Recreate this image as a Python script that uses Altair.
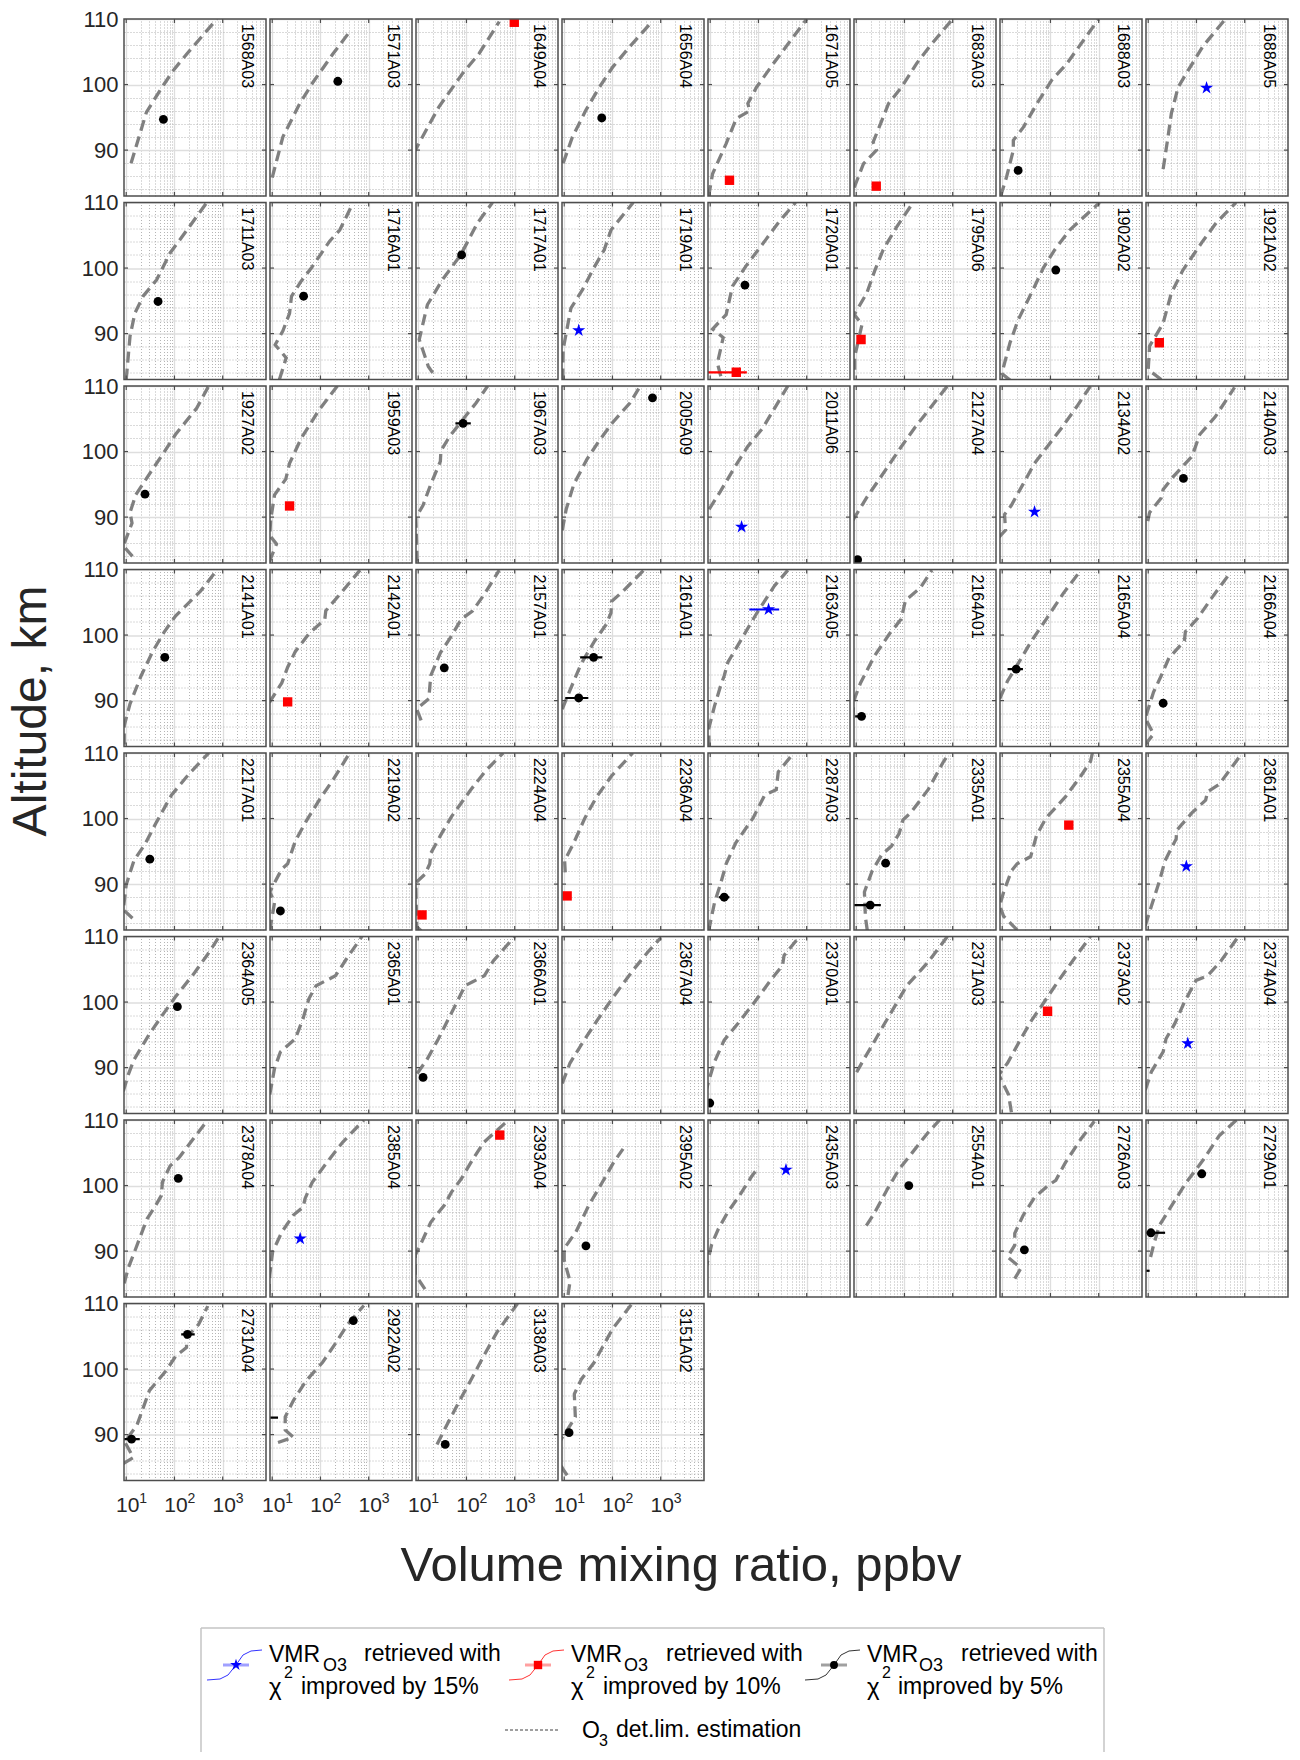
import altair as alt
import pandas as pd

FONT = "Liberation Sans"
TXT = "#262626"

ROWS = [
    ["1568A03", "1571A03", "1649A04", "1656A04", "1671A05", "1683A03", "1688A03", "1688A05"],
    ["1711A03", "1716A01", "1717A01", "1719A01", "1720A01", "1795A06", "1902A02", "1921A02"],
    ["1927A02", "1959A03", "1967A03", "2005A09", "2011A06", "2127A04", "2134A02", "2140A03"],
    ["2141A01", "2142A01", "2157A01", "2161A01", "2163A05", "2164A01", "2165A04", "2166A04"],
    ["2217A01", "2219A02", "2224A04", "2236A04", "2287A03", "2335A01", "2355A04", "2361A01"],
    ["2364A05", "2365A01", "2366A01", "2367A04", "2370A01", "2371A03", "2373A02", "2374A04"],
    ["2378A04", "2385A04", "2393A04", "2395A02", "2435A03", "2554A01", "2726A03", "2729A01"],
    ["2731A04", "2922A02", "3138A03", "3151A02"],
]

# detection-limit profiles: altitude (km) and VMR (ppbv)
DL_ALT = {
    "1568A03": [88.0, 95.8, 99.9, 102.2, 104.7, 110.0],
    "1571A03": [85.8, 92.0, 97.1, 100.4, 104.7, 108.1],
    "1649A04": [89.5, 91.5, 96.6, 101.7, 104.7, 109.6],
    "1656A04": [88.0, 92.0, 96.1, 99.6, 102.7, 105.8, 109.6],
    "1671A05": [83.0, 86.4, 91.0, 94.8, 96.0, 97.1, 99.6, 103.2, 110.0],
    "1683A03": [84.3, 87.9, 90.0, 91.2, 94.5, 97.1, 99.6, 103.2, 105.8, 110.0],
    "1688A03": [83.0, 85.9, 90.0, 91.5, 93.5, 97.1, 100.7, 103.2, 110.0],
    "1688A05": [87.1, 92.0, 95.6, 99.6, 101.7, 105.8, 110.0],
    "1711A03": [83.0, 89.6, 93.1, 95.7, 98.2, 102.3, 105.8, 110.0],
    "1716A01": [83.0, 86.3, 88.3, 90.4, 93.1, 95.7, 98.0, 100.0, 104.1, 105.8, 109.4, 110.0],
    "1717A01": [84.0, 85.0, 87.6, 89.1, 94.4, 98.2, 102.0, 106.9, 110.0],
    "1719A01": [83.0, 87.6, 93.9, 96.7, 99.7, 102.8, 105.8, 110.0],
    "1720A01": [83.5, 85.5, 89.4, 90.7, 92.9, 97.2, 100.3, 104.3, 107.1, 110.0],
    "1795A06": [84.5, 86.5, 91.4, 92.9, 96.2, 99.7, 102.8, 106.3, 110.0],
    "1902A02": [82.9, 83.9, 88.6, 92.1, 96.7, 100.0, 102.8, 105.8, 110.0],
    "1921A02": [83.0, 84.5, 88.1, 91.6, 96.2, 99.7, 104.1, 106.9, 110.0],
    "1927A02": [84.0, 85.6, 89.1, 90.7, 93.4, 96.9, 100.4, 102.6, 106.6, 110.0],
    "1959A03": [83.2, 85.9, 87.2, 89.6, 93.4, 95.8, 98.2, 102.0, 106.1, 106.9, 110.0],
    "1967A03": [83.2, 85.8, 89.9, 91.8, 95.0, 98.5, 100.1, 102.3, 105.3, 107.4, 110.0],
    "2005A09": [88.0, 91.2, 95.0, 98.8, 101.5, 104.4, 107.4, 109.6],
    "2011A06": [91.2, 93.9, 97.4, 100.7, 103.6, 110.0],
    "2127A04": [89.5, 92.9, 97.2, 100.7, 103.6, 110.0],
    "2134A02": [86.9, 88.0, 90.4, 91.8, 95.0, 98.2, 100.9, 103.6, 106.9, 110.0],
    "2140A03": [89.4, 90.7, 92.9, 94.2, 96.1, 99.3, 102.6, 105.3, 109.8],
    "2141A01": [83.3, 86.2, 89.5, 93.8, 97.5, 100.5, 102.9, 106.7, 110.0],
    "2142A01": [89.7, 92.7, 95.1, 97.5, 100.2, 102.4, 103.7, 106.1, 109.9],
    "2157A01": [87.0, 88.7, 90.3, 93.8, 97.3, 99.4, 102.4, 103.7, 106.1, 109.9],
    "2161A01": [88.7, 91.6, 95.6, 99.1, 101.6, 103.4, 105.1, 106.7, 109.9],
    "2163A05": [83.0, 85.7, 89.2, 92.1, 93.8, 95.9, 99.4, 103.4, 107.5, 109.9],
    "2164A01": [87.3, 90.0, 92.7, 96.7, 100.2, 102.4, 105.3, 107.2, 109.9],
    "2165A04": [90.3, 93.0, 95.9, 98.9, 102.4, 106.4, 109.9],
    "2166A04": [83.3, 84.9, 87.3, 91.3, 93.8, 96.5, 99.1, 100.5, 102.6, 105.6, 109.6],
    "2217A01": [84.8, 86.1, 89.9, 93.6, 96.1, 99.5, 103.6, 106.8, 110.0],
    "2219A02": [82.9, 87.2, 88.8, 92.3, 93.1, 96.6, 99.8, 103.0, 106.0, 109.7],
    "2224A04": [82.9, 83.5, 90.2, 91.5, 93.1, 94.7, 97.4, 100.3, 104.4, 107.3, 110.0],
    "2236A04": [91.8, 93.6, 96.3, 100.1, 103.3, 106.5, 110.0],
    "2287A03": [82.9, 87.2, 89.9, 93.1, 96.3, 100.1, 103.6, 104.4, 107.1, 110.0],
    "2335A01": [82.9, 85.0, 88.8, 92.0, 94.5, 95.8, 97.7, 99.8, 100.9, 104.4, 108.7, 110.0],
    "2355A04": [83.0, 85.1, 86.7, 88.8, 92.0, 93.1, 94.2, 97.4, 100.1, 103.3, 106.5, 108.7, 110.0],
    "2361A01": [83.7, 86.7, 90.4, 93.6, 96.9, 98.2, 100.9, 102.8, 104.1, 105.2, 110.0],
    "2364A05": [86.4, 88.9, 91.2, 95.0, 98.0, 100.8, 104.5, 107.3, 110.0],
    "2365A01": [85.9, 89.9, 92.4, 94.4, 97.5, 100.5, 102.5, 104.0, 106.6, 110.0],
    "2366A01": [89.1, 91.2, 94.4, 97.2, 99.5, 102.5, 103.1, 104.0, 106.3, 110.0],
    "2367A04": [87.6, 90.7, 93.9, 97.5, 100.8, 104.8, 107.6, 109.8],
    "2370A01": [86.1, 88.9, 90.9, 94.2, 96.7, 99.7, 103.3, 105.6, 107.1, 110.0],
    "2371A03": [89.3, 90.9, 93.4, 96.5, 99.5, 102.5, 106.1, 110.0],
    "2373A02": [83.2, 85.9, 88.9, 90.7, 93.9, 97.0, 100.0, 103.5, 106.8, 110.0],
    "2374A04": [86.6, 89.4, 92.4, 94.4, 96.7, 100.0, 103.3, 104.0, 106.3, 110.0],
    "2378A04": [85.1, 87.4, 90.4, 94.9, 96.7, 98.5, 100.5, 103.0, 104.3, 107.8, 110.0],
    "2385A04": [83.3, 86.4, 89.9, 92.9, 95.5, 96.7, 98.0, 100.5, 103.3, 106.6, 110.0],
    "2393A04": [84.2, 86.4, 89.4, 91.2, 94.4, 97.0, 99.0, 101.0, 104.0, 106.6, 110.0],
    "2395A02": [83.3, 85.4, 88.6, 90.4, 92.9, 97.0, 100.5, 103.5, 105.6],
    "2435A03": [86.9, 91.0, 93.4, 96.0, 98.5, 101.3, 102.9],
    "2554A01": [93.9, 95.7, 99.5, 102.5, 105.1, 108.1, 110.0],
    "2726A03": [85.8, 87.4, 89.1, 90.9, 92.7, 95.4, 98.2, 100.0, 100.8, 103.5, 107.1, 109.8],
    "2729A01": [89.1, 90.9, 93.9, 97.7, 100.5, 104.0, 107.6, 110.0],
    "2731A04": [85.6, 86.5, 88.9, 91.4, 96.7, 99.7, 102.0, 103.3, 104.8, 106.8, 109.6],
    "2922A02": [88.8, 89.6, 90.7, 92.7, 95.2, 98.2, 101.0, 103.8, 106.8, 109.7],
    "3138A03": [88.5, 91.7, 95.2, 98.7, 102.3, 105.6, 110.0],
    "3151A02": [83.8, 84.8, 87.5, 91.7, 92.7, 96.2, 98.5, 101.0, 103.3, 106.1, 109.8],
}
DL_VMR = {
    "1568A03": [12.6, 26.3, 58.9, 95.5, 182, 759],
    "1571A03": [10.0, 16.6, 37.2, 70.8, 182, 407],
    "1649A04": [8.0, 11.2, 26.9, 83.2, 182, 479],
    "1656A04": [9.5, 14.8, 28.2, 53.7, 102, 229, 661],
    "1671A05": [9.3, 11.2, 21.4, 34.7, 66.1, 60.3, 91.2, 204, 1000],
    "1683A03": [9.1, 14.1, 26.3, 22.4, 33.9, 46.8, 87.1, 178, 331, 1000],
    "1688A03": [9.3, 12.3, 17.0, 17.0, 27.5, 52.5, 107, 219, 1000],
    "1688A05": [20.4, 25.7, 30.2, 41.7, 61.7, 135, 398],
    "1711A03": [10.0, 12.0, 15.1, 22.4, 42.7, 81.3, 182, 468],
    "1716A01": [14.1, 19.5, 11.5, 16.6, 22.9, 25.1, 39.8, 64.6, 155, 251, 437, 457],
    "1717A01": [20.0, 16.2, 12.3, 10.5, 15.5, 31.6, 75.9, 170, 347],
    "1719A01": [9.3, 9.5, 13.8, 24.0, 38.9, 67.6, 93.3, 269],
    "1720A01": [16.6, 14.1, 18.6, 11.2, 21.4, 28.8, 55.0, 141, 269, 589],
    "1795A06": [9.3, 9.3, 13.2, 9.1, 16.6, 24.5, 36.3, 69.2, 151],
    "1902A02": [14.5, 9.8, 14.5, 21.4, 43.7, 70.8, 123, 251, 1047],
    "1921A02": [18.6, 10.0, 10.7, 20.4, 30.2, 52.5, 135, 257, 661],
    "1927A02": [13.5, 8.7, 13.2, 12.0, 15.8, 32.4, 67.6, 105, 288, 513],
    "1959A03": [8.7, 12.3, 8.9, 9.3, 11.2, 19.1, 22.9, 39.8, 89.1, 107, 224],
    "1967A03": [9.5, 9.3, 8.9, 12.6, 18.2, 28.8, 29.5, 44.7, 93.3, 158, 275],
    "2005A09": [9.1, 11.0, 15.8, 29.5, 51.3, 100, 230, 350],
    "2011A06": [9.5, 16.2, 30.9, 58.9, 123, 407],
    "2127A04": [8.5, 16.2, 40.7, 85.1, 162, 776],
    "2134A02": [8.5, 11.7, 11.2, 15.5, 26.9, 46.8, 89.1, 170, 355, 676],
    "2140A03": [9.8, 10.7, 18.6, 20.4, 32.4, 81.3, 117, 245, 617],
    "2141A01": [9.1, 9.1, 12.0, 20.4, 35.5, 61.7, 105, 347, 776],
    "2142A01": [8.7, 15.8, 20.9, 30.2, 57.5, 123, 129, 245, 661],
    "2157A01": [11.5, 9.3, 16.6, 18.2, 28.8, 44.7, 77.6, 135, 229, 479],
    "2161A01": [9.1, 13.2, 22.4, 42.7, 74.1, 93.3, 95.5, 166, 447],
    "2163A05": [9.5, 9.3, 12.3, 16.2, 19.5, 23.4, 44.7, 93.3, 214, 407],
    "2164A01": [8.5, 8.9, 12.3, 23.4, 49.0, 85.1, 105, 214, 372],
    "2165A04": [8.9, 12.9, 22.4, 38.9, 81.3, 186, 427],
    "2166A04": [8.7, 12.9, 8.7, 12.9, 18.6, 26.9, 56.2, 58.9, 107, 204, 513],
    "2217A01": [13.5, 8.7, 10.0, 14.5, 24.5, 42.7, 87.1, 200, 513],
    "2219A02": [8.9, 11.2, 8.9, 15.8, 20.9, 30.2, 52.5, 97.7, 186, 380],
    "2224A04": [11.5, 9.3, 8.9, 13.8, 17.4, 18.2, 28.8, 49.0, 123, 251, 575],
    "2236A04": [10.5, 10.2, 15.8, 26.9, 46.8, 95.5, 263],
    "2287A03": [9.3, 12.3, 16.2, 21.4, 33.9, 77.6, 135, 234, 257, 537],
    "2335A01": [17.0, 15.5, 14.8, 21.4, 33.9, 53.7, 77.6, 93.3, 135, 309, 646, 851],
    "2355A04": [20.4, 10.7, 8.9, 10.7, 15.5, 20.4, 38.9, 51.3, 81.3, 204, 427, 676, 741],
    "2361A01": [8.7, 11.7, 17.0, 22.4, 38.0, 38.9, 81.3, 155, 170, 295, 891],
    "2364A05": [8.7, 11.0, 14.5, 29.5, 56.2, 105, 263, 490, 851],
    "2365A01": [8.9, 11.2, 14.8, 30.2, 43.7, 57.5, 81.3, 204, 347, 724],
    "2366A01": [9.5, 15.1, 26.3, 40.7, 58.9, 93.3, 135, 234, 363, 1000],
    "2367A04": [9.1, 13.2, 24.5, 51.3, 105, 263, 537, 1000],
    "2370A01": [7.9, 10.2, 12.3, 19.5, 37.2, 77.6, 178, 316, 339, 708],
    "2371A03": [10.2, 13.5, 21.4, 37.2, 64.6, 112, 309, 776],
    "2373A02": [15.5, 13.5, 8.5, 12.9, 22.4, 38.9, 74.1, 155, 324, 676],
    "2374A04": [8.7, 11.7, 20.4, 23.4, 35.5, 56.2, 97.7, 170, 324, 741],
    "2378A04": [9.1, 11.0, 15.8, 26.9, 38.9, 53.7, 56.2, 81.3, 126, 288, 490],
    "2385A04": [8.5, 8.9, 10.2, 15.8, 27.5, 43.7, 47.9, 67.6, 129, 288, 794],
    "2393A04": [13.8, 8.7, 8.7, 11.5, 18.2, 34.7, 49.0, 77.6, 135, 229, 741],
    "2395A02": [12.0, 13.2, 10.0, 10.0, 17.4, 32.4, 61.7, 105, 166],
    "2435A03": [7.9, 10.7, 14.8, 23.4, 40.7, 70.8, 102],
    "2554A01": [16.2, 23.4, 44.7, 77.6, 148, 309, 537],
    "2726A03": [18.2, 24.5, 12.9, 18.2, 18.2, 26.9, 46.8, 89.1, 129, 204, 427, 813],
    "2729A01": [11.2, 12.9, 17.0, 35.5, 61.7, 141, 295, 676],
    "2731A04": [8.7, 14.1, 9.3, 16.6, 30.2, 66.1, 107, 178, 178, 316, 490],
    "2922A02": [13.2, 27.5, 18.6, 18.6, 27.5, 50.1, 110, 200, 363, 794],
    "3138A03": [24.5, 40.7, 72.4, 132, 240, 427, 1148],
    "3151A02": [11.5, 9.3, 6.0, 14.1, 17.0, 16.2, 22.9, 41.7, 61.7, 100, 245],
}

# retrieved VMR points (k: 5 %, r: 10 %, b: 15 % chi^2 improvement)
PT_LABEL = ["1568A03", "1571A03", "1649A04", "1656A04", "1671A05", "1683A03", "1688A03", "1688A05",
            "1711A03", "1716A01", "1717A01", "1719A01", "1720A01", "1720A01", "1795A06", "1902A02", "1921A02",
            "1927A02", "1959A03", "1967A03", "2005A09", "2011A06", "2127A04", "2134A02", "2140A03",
            "2141A01", "2142A01", "2157A01", "2161A01", "2161A01", "2163A05", "2164A01", "2165A04", "2166A04",
            "2217A01", "2219A02", "2224A04", "2236A04", "2287A03", "2335A01", "2335A01", "2355A04", "2361A01",
            "2364A05", "2366A01", "2370A01", "2373A02", "2374A04",
            "2378A04", "2385A04", "2393A04", "2395A02", "2435A03", "2554A01", "2726A03", "2729A01", "2729A01", "2729A01",
            "2731A04", "2731A04", "2922A02", "2922A02", "3138A03", "3151A02"]
PT_ALT = [94.7, 100.5, 109.5, 94.9, 85.4, 84.5, 86.9, 99.5,
          94.9, 95.7, 102.0, 90.5, 97.4, 84.1, 89.1, 99.7, 88.6,
          93.5, 91.7, 104.3, 108.2, 88.5, 83.5, 90.8, 95.9,
          96.6, 89.8, 95.0, 96.6, 90.4, 103.9, 87.6, 94.8, 89.6,
          93.8, 85.9, 85.3, 88.2, 88.0, 93.2, 86.8, 99.0, 92.7,
          99.3, 88.5, 84.6, 98.6, 93.7,
          101.1, 91.9, 107.7, 90.8, 102.4, 100.0, 90.2, 92.8, 101.8, 87.0,
          89.3, 105.3, 107.4, 92.6, 88.5, 90.3]
PT_VMR = [59, 229, 980, 60, 25.1, 26, 21.4, 162,
          45.7, 44.7, 79.4, 20, 52.5, 34.7, 12.6, 129, 17,
          24.5, 22.9, 85.1, 676, 44.7, 10.7, 46.8, 53.7,
          63.1, 20.9, 34.7, 40.7, 20.0, 162, 12.9, 19.5, 20.4,
          30.9, 14.8, 12.0, 11.5, 19.5, 40.7, 19.5, 240, 61.7,
          115, 12.6, 9.8, 87.1, 66.1,
          120, 38, 490, 28.2, 372, 123, 28.8, 11.4, 129, 5,
          12.9, 186, 480, 5, 36.3, 12.6]
PT_LO = [50, 229, 980, 52, 25.1, 23, 19, 162,
         41, 38, 68, 20, 45, 7, 12.6, 115, 17,
         21, 22.9, 59, 590, 44.7, 10.7, 46.8, 50,
         57, 20.9, 29, 21.4, 10.5, 64.6, 9.5, 12.9, 20.4,
         30.9, 13, 11, 11.5, 15, 36, 7, 215, 61.7,
         115, 12.6, 9.8, 87.1, 66.1,
         100, 38, 490, 25, 372, 123, 25, 7, 105, 5,
         8, 138, 420, 5, 36.3, 12.6]
PT_HI = [69, 229, 980, 69, 25.1, 29, 24, 162,
         51, 52, 92, 20, 61, 57.5, 12.6, 145, 17,
         28, 22.9, 123, 775, 44.7, 10.7, 46.8, 58,
         70, 20.9, 41, 61.7, 31.6, 269, 15, 26.9, 20.4,
         30.9, 17, 13.5, 11.5, 25, 46, 32.4, 265, 61.7,
         115, 12.6, 9.8, 87.1, 66.1,
         140, 38, 490, 31.5, 372, 123, 33, 22.4, 158, 10.7,
         19.1, 263, 540, 13.2, 36.3, 12.6]
PT_CLASS = ["k", "k", "r", "k", "r", "r", "k", "b",
            "k", "k", "k", "b", "k", "r", "r", "k", "r",
            "k", "r", "k", "k", "b", "k", "b", "k",
            "k", "r", "k", "k", "k", "b", "k", "k", "k",
            "k", "k", "r", "r", "k", "k", "k", "r", "b",
            "k", "k", "k", "r", "b",
            "k", "b", "r", "k", "b", "k", "k", "k", "k", "k",
            "k", "k", "k", "k", "k", "k"]

X_DOMAIN = [9, 7900]
Y_DOMAIN = [83, 110]
X_MAJOR = [10, 100, 1000]
X_EXP = ["1", "2", "3"]
X_MINOR = [20, 30, 40, 50, 60, 70, 80, 90, 200, 300, 400, 500, 600, 700, 800, 900,
           2000, 3000, 4000, 5000, 6000, 7000]
Y_MAJOR = [90, 100, 110]
Y_TICKS = [90, 100]
Y_MINOR = [84, 86, 88, 92, 94, 96, 98, 102, 104, 106, 108]

PW, PH = 142, 177
TICK = 4

STAR = ("M0,-1L0.2245,-0.309L0.951,-0.309L0.363,0.118L0.588,0.809L0,0.382"
        "L-0.588,0.809L-0.363,0.118L-0.951,-0.309L-0.2245,-0.309Z")
STYLE = {
    "k": dict(color="#000000", shape="circle", size=78),
    "r": dict(color="#ff0000", shape="square", size=88),
    "b": dict(color="#0000ff", shape=STAR, size=190),
}

pts_df = pd.DataFrame({"label": PT_LABEL, "alt": PT_ALT, "vmr": PT_VMR,
                       "lo": PT_LO, "hi": PT_HI, "cls": PT_CLASS})
xt_df = pd.DataFrame({"v": X_MAJOR, "t": X_EXP})
yt_df = pd.DataFrame({"v": Y_TICKS})


def panel(label, r, c):
    xs = alt.Scale(type="log", domain=X_DOMAIN, nice=False)
    ys = alt.Scale(domain=Y_DOMAIN, nice=False, zero=False)
    cdf = pd.DataFrame({"alt": DL_ALT[label], "vmr": DL_VMR[label]})
    cdf["i"] = list(range(len(cdf)))
    bottom_row = (r == len(ROWS) - 1)

    minor_x = alt.Axis(orient="top", values=X_MINOR, grid=True, gridDash=[1, 2],
                       gridColor="#b5b5b5", gridWidth=1, labels=False, ticks=False,
                       domain=False, title=None)
    minor_y = alt.Axis(orient="right", values=Y_MINOR, grid=True, gridDash=[1, 2],
                       gridColor="#b5b5b5", gridWidth=1, labels=False, ticks=False,
                       domain=False, title=None)
    minor = alt.Chart(cdf).mark_point(opacity=0, clip=True).encode(
        x=alt.X("vmr:Q", scale=xs, axis=minor_x),
        y=alt.Y("alt:Q", scale=ys, axis=minor_y),
    )

    major_x = alt.Axis(orient="bottom", values=X_MAJOR, grid=True, gridColor="#dedede",
                       gridWidth=1.3, labels=bottom_row, labelExpr="'10'",
                       labelFontSize=21, labelPadding=14, labelOffset=1, labelFlush=False,
                       labelOverlap=False, labelColor=TXT, labelFont=FONT,
                       ticks=False, domain=False, title=None)
    major_y = alt.Axis(orient="left", values=Y_MAJOR, grid=True, gridColor="#dedede",
                       gridWidth=1.3, labels=(c == 0), labelFontSize=22, labelPadding=6,
                       labelFlush=False, labelOverlap=False, labelColor=TXT, labelFont=FONT,
                       ticks=False, domain=False, title=None)
    line = alt.Chart(cdf).mark_line(color="#808080", strokeWidth=3.3, strokeDash=[11, 6],
                                    clip=True).encode(
        x=alt.X("vmr:Q", scale=xs, axis=major_x),
        y=alt.Y("alt:Q", scale=ys, axis=major_y),
        order="i:Q",
    )
    layers = [minor, line]

    # small inward tick marks on the box
    tick_style = dict(color="#4d4d4d", strokeWidth=1.2)
    layers.append(alt.Chart(xt_df).mark_rule(**tick_style).encode(
        x=alt.X("v:Q", scale=xs, axis=None), y=alt.value(PH), y2=alt.value(PH - TICK)))
    layers.append(alt.Chart(xt_df).mark_rule(**tick_style).encode(
        x=alt.X("v:Q", scale=xs, axis=None), y=alt.value(0), y2=alt.value(TICK)))
    layers.append(alt.Chart(yt_df).mark_rule(**tick_style).encode(
        y=alt.Y("v:Q", scale=ys, axis=None), x=alt.value(0), x2=alt.value(TICK)))
    layers.append(alt.Chart(yt_df).mark_rule(**tick_style).encode(
        y=alt.Y("v:Q", scale=ys, axis=None), x=alt.value(PW), x2=alt.value(PW - TICK)))

    sub = pts_df[pts_df["label"] == label]
    for cls in ["k", "r", "b"]:
        d = sub[sub["cls"] == cls]
        if len(d) == 0:
            continue
        st = STYLE[cls]
        bars = alt.Chart(d).mark_rule(color=st["color"], strokeWidth=2.2, clip=True).encode(
            x=alt.X("lo:Q", scale=xs, axis=None),
            x2="hi:Q",
            y=alt.Y("alt:Q", scale=ys, axis=None),
        )
        pts = alt.Chart(d).mark_point(filled=True, opacity=1, color=st["color"],
                                      shape=st["shape"], size=st["size"], clip=True).encode(
            x=alt.X("vmr:Q", scale=xs, axis=None),
            y=alt.Y("alt:Q", scale=ys, axis=None),
        )
        layers += [bars, pts]

    if bottom_row:
        sup = alt.Chart(xt_df).mark_text(
            align="left", baseline="top", fontSize=14, font=FONT, color=TXT, dx=13
        ).encode(x=alt.X("v:Q", scale=xs, axis=None), y=alt.value(PH + 11), text="t:N")
        layers.append(sup)

    txt = alt.Chart(pd.DataFrame({"t": [label]})).mark_text(
        angle=90, align="left", baseline="top", fontSize=16, font=FONT, color="#000000"
    ).encode(x=alt.value(PW - 11), y=alt.value(5), text="t:N")
    border = alt.Chart(pd.DataFrame({"a": [0]})).mark_rect(
        fillOpacity=0, stroke="#4d4d4d", strokeWidth=1.5
    ).encode(x=alt.value(0), x2=alt.value(PW), y=alt.value(0), y2=alt.value(PH))
    layers += [txt, border]

    return alt.layer(*layers).resolve_axis(x="independent", y="independent").properties(
        width=PW, height=PH)


panels = []
for r, row in enumerate(ROWS):
    for c, l in enumerate(row):
        panels.append(panel(l, r, c))
grid = alt.concat(*panels, columns=8, spacing={"row": 6.5, "column": 4}, bounds="flush")

ytitle = alt.Chart(pd.DataFrame({"t": ["Altitude, km"]})).mark_text(
    angle=270, fontSize=48, font=FONT, color=TXT, align="center", baseline="middle"
).encode(x=alt.value(24), y=alt.value(692), text="t:N").properties(width=60, height=1520)

# ---- bottom: x title + legend (pixel coordinate frame) ----
WB, HB = 1280, 213
bx = alt.Scale(domain=[0, WB], nice=False, zero=False)
by = alt.Scale(domain=[0, HB], reverse=True, nice=False, zero=False)

xtitle = alt.Chart(pd.DataFrame({"x": [673], "y": [27], "t": ["Volume mixing ratio, ppbv"]})).mark_text(
    fontSize=49, font=FONT, color=TXT, align="center", baseline="middle"
).encode(x=alt.X("x:Q", scale=bx, axis=None), y=alt.Y("y:Q", scale=by, axis=None), text="t:N")

LEG_T = ["VMR", "O3", "retrieved with", "\u03c7", "2", "improved by 15%",
         "VMR", "O3", "retrieved with", "\u03c7", "2", "improved by 10%",
         "VMR", "O3", "retrieved with", "\u03c7", "2", "improved by 5%",
         "O", "3", "det.lim. estimation"]
LEG_X = [261, 315, 356, 261, 276, 293,
         563, 616, 658, 563, 578, 595,
         859, 911, 953, 859, 874, 890,
         574, 591, 608]
LEG_Y = [116, 127, 115, 149, 134, 148,
         116, 127, 115, 149, 134, 148,
         116, 127, 115, 149, 134, 148,
         192, 202, 191]
LEG_FS = [23, 18, 23, 24, 16, 23,
          23, 18, 23, 24, 16, 23,
          23, 18, 23, 24, 16, 23,
          23, 16, 23]
leg_text = alt.Chart(pd.DataFrame({"x": LEG_X, "y": LEG_Y, "t": LEG_T, "fs": LEG_FS})).mark_text(
    font=FONT, color="#000000", align="left", baseline="middle"
).encode(x=alt.X("x:Q", scale=bx, axis=None), y=alt.Y("y:Q", scale=by, axis=None),
         text="t:N", size=alt.Size("fs:Q", scale=None, legend=None))

box = alt.Chart(pd.DataFrame({"x": [193, 193, 1096], "x2": [1096, 193, 1096],
                              "y": [89, 89, 89], "y2": [89, 213, 213]})).mark_rule(
    color="#c4c4c4", strokeWidth=1.5
).encode(x=alt.X("x:Q", scale=bx, axis=None), x2="x2:Q",
         y=alt.Y("y:Q", scale=by, axis=None), y2="y2:Q")

CURVE_X = [199, 212, 220, 228, 235, 243, 254]
CURVE_Y = [141, 140, 136, 126, 116, 112, 111]
ENTRY_DX = [0, 302, 598]
ENTRY_COL = ["#3333ff", "#ff3333", "#333333"]
ENTRY_LIGHT = ["#a0a0ff", "#ffa0a0", "#a0a0a0"]
crv = {"x": [], "y": [], "g": [], "c": [], "i": []}
for g, (dx, col) in enumerate(zip(ENTRY_DX, ENTRY_COL)):
    for i, (cx, cy) in enumerate(zip(CURVE_X, CURVE_Y)):
        crv["x"].append(cx + dx)
        crv["y"].append(cy)
        crv["g"].append(g)
        crv["c"].append(col)
        crv["i"].append(i)
leg_curves = alt.Chart(pd.DataFrame(crv)).mark_line(strokeWidth=1).encode(
    x=alt.X("x:Q", scale=bx, axis=None), y=alt.Y("y:Q", scale=by, axis=None),
    detail="g:N", color=alt.Color("c:N", scale=None), order="i:Q")
leg_bars = alt.Chart(pd.DataFrame({"x": [215 + d for d in ENTRY_DX], "x2": [241 + d for d in ENTRY_DX],
                                   "y": [126, 126, 126], "c": ENTRY_LIGHT})).mark_rule(strokeWidth=3).encode(
    x=alt.X("x:Q", scale=bx, axis=None), x2="x2:Q", y=alt.Y("y:Q", scale=by, axis=None),
    color=alt.Color("c:N", scale=None))
leg_marks = []
for dx, cls in zip(ENTRY_DX, ["b", "r", "k"]):
    st = STYLE[cls]
    leg_marks.append(alt.Chart(pd.DataFrame({"x": [228 + dx], "y": [126]})).mark_point(
        filled=True, opacity=1, color=st["color"], shape=st["shape"], size=st["size"] * 0.8).encode(
        x=alt.X("x:Q", scale=bx, axis=None), y=alt.Y("y:Q", scale=by, axis=None)))
leg_dash = alt.Chart(pd.DataFrame({"x": [497], "x2": [551], "y": [191]})).mark_rule(
    color="#808080", strokeWidth=1.3, strokeDash=[3, 2]).encode(
    x=alt.X("x:Q", scale=bx, axis=None), x2="x2:Q", y=alt.Y("y:Q", scale=by, axis=None))

bottom = alt.layer(box, xtitle, leg_text, leg_curves, leg_bars, *leg_marks, leg_dash).properties(
    width=WB, height=HB)

chart = alt.vconcat(
    alt.hconcat(ytitle, grid, spacing=13),
    bottom,
    spacing=0,
).properties(padding=0).configure_view(strokeWidth=0)

chart.save("out.html", embed_options={"renderer": "svg", "actions": False})
